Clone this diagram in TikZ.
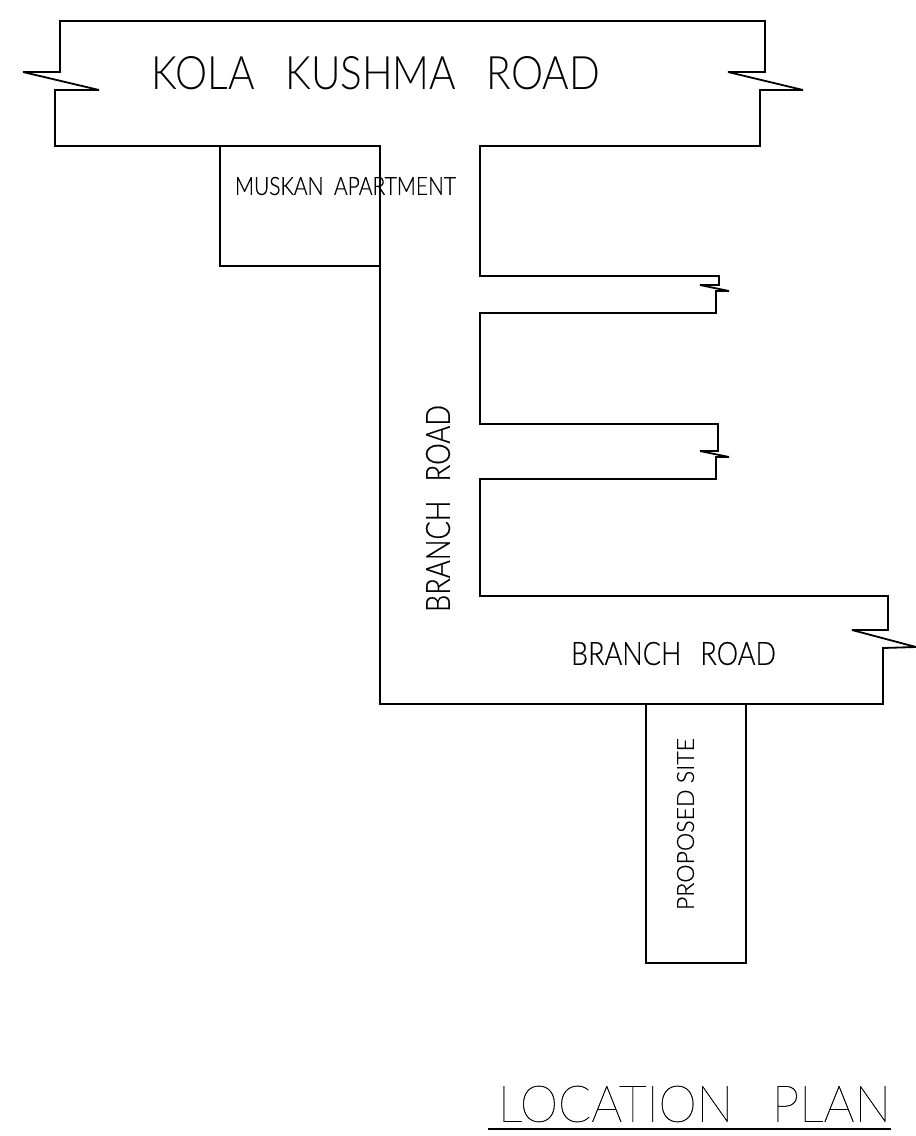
\documentclass[tikz,border=0pt]{standalone}
\usepackage{fontspec}
\setmainfont{Liberation Sans}
\newfontfamily\thinfont[FakeBold=0.5]{Lato Thin}
\newfontfamily\lightfont{Lato Light}
\newfontfamily\boldlight[FakeBold=0.5]{Lato Light}
\tikzset{
  road/.style={draw=black,line width=1.8pt,line join=miter,miter limit=2},
  lbl/.style={inner sep=0pt,outer sep=0pt,anchor=center,text=black},
}
\newcommand{\fitted}[3]{\resizebox{#1pt}{#2pt}{#3}}
\begin{document}
\begin{tikzpicture}[x=1pt,y=-1pt]
\useasboundingbox (0,0) rectangle (916,1136);
\draw[road] (60,21) -- (765,21) -- (765,72) -- (728,72) -- (803,90) -- (760,90) -- (760,146) -- (480,146) -- (480,276) -- (719,276) -- (719,285) -- (700,285) -- (729,291) -- (716,291) -- (716,313) -- (480,313) -- (480,424) -- (718,424) -- (718,451) -- (700,451) -- (729,457) -- (716,457) -- (716,479) -- (480,479) -- (480,596) -- (888,596) -- (888,630) -- (852,630) -- (916,647) -- (883,648) -- (883,704) -- (380,704) -- (380,146) -- (55,146) -- (55,90) -- (99,90) -- (23,72) -- (60,72) -- cycle;
\draw[road] (220,146) -- (220,266) -- (380,266);
\draw[road] (646,704) -- (646,963) -- (746,963) -- (746,704);
\node[lbl] (kola) at (376,73.5) {\fitted{448}{33}{\lightfont KOLA\hspace{0.75em}KUSHMA\hspace{0.75em}ROAD}};
\node[lbl] (muskan) at (345.5,186) {\fitted{221}{18}{\boldlight MUSKAN\hspace{0.5em}APARTMENT}};
\node[lbl,rotate=90] (branchv) at (438,508.5) {\fitted{207}{24}{\boldlight BRANCH\hspace{0.7em}ROAD}};
\node[lbl] (branchh) at (673.5,653.5) {\fitted{205}{23}{\boldlight BRANCH\hspace{0.7em}ROAD}};
\node[lbl,rotate=90] (site) at (685.5,824) {\fitted{172}{17}{\boldlight PROPOSED SITE}};
\node[lbl] (title) at (694.5,1104) {\fitted{393}{36}{\thinfont LOCATION\hspace{0.8em}PLAN}};
\draw[black,line width=1.1pt] (488,1129) -- (891,1129);
\end{tikzpicture}
\end{document}
